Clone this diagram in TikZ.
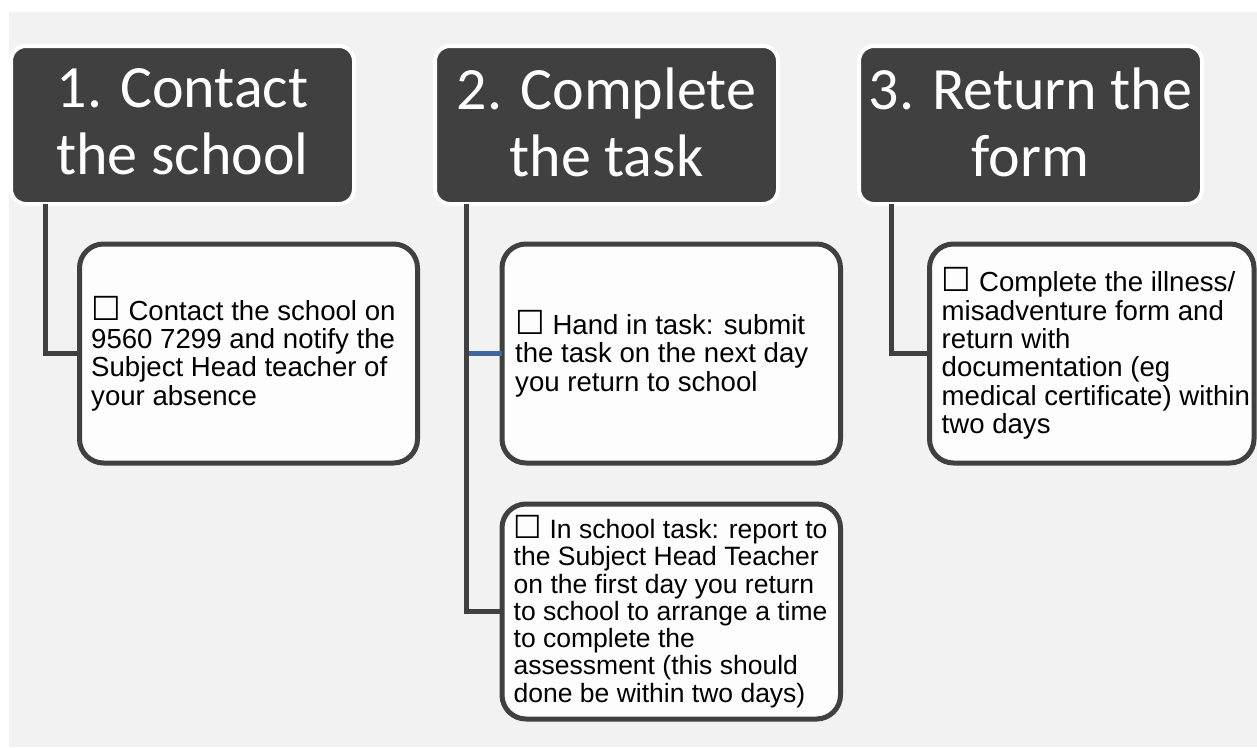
\documentclass[tikz,border=0pt]{standalone}
\usepackage{fontspec}
\usepackage{graphicx}
\newfontfamily\hdrfont{Carlito}
\newfontfamily\bodyfont{Liberation Sans}
\newfontfamily\symfont{DejaVu Sans}
\definecolor{bgray}{HTML}{F2F2F2}
\definecolor{darkgray}{HTML}{404040}
\definecolor{linkblue}{HTML}{41689E}
\definecolor{boxwhite}{HTML}{FDFDFD}
\newcommand{\ballotbox}{\scalebox{1.2}{\symfont\char"2610}}
\tikzset{
  hdrbox/.style={rounded corners=15pt, fill=darkgray, draw=white, line width=4pt,
    minimum width=343pt, minimum height=158pt, inner sep=0pt, outer sep=0pt,
    text=white, font=\hdrfont\fontsize{60}{67}\selectfont, align=center, text depth=6pt},
  childbox/.style={rounded corners=24pt, fill=boxwhite, draw=darkgray, line width=5pt,
    minimum height=219pt, inner sep=0pt, outer sep=0pt},
  childtext/.style={anchor=west, inner sep=0pt, align=left, text=black,
    font=\bodyfont\fontsize{27.6}{28.3}\selectfont},
  smalltext/.style={childtext, font=\bodyfont\fontsize{26.5}{27.3}\selectfont},
  conn/.style={draw=darkgray, line width=5pt, line cap=butt},
  bluelink/.style={draw=linkblue, line width=5pt, line cap=butt}
}
\begin{document}
\begin{tikzpicture}[x=1pt,y=-1pt]
\useasboundingbox (0,0) rectangle (1257,747);
\fill[white] (0,0) rectangle (1257,747);
\fill[bgray] (9,12) rectangle (1257,747);

% header boxes
\node[hdrbox] (h1) at (182.5,125) {1. Contact\\the school};
\node[hdrbox] (h2) at (606.5,125) {2. Complete\\the task};
\node[hdrbox] (h3) at (1030.5,125) {3. Return the\\form};

% child boxes
\node[childbox, minimum width=338pt] (c1) at (248.5,353.5) {};
\node[childbox, minimum width=338.5pt] (c2a) at (671.25,353.5) {};
\node[childbox, minimum width=338.5pt, minimum height=215pt] (c2b) at (671.25,611.5) {};
\node[childbox, minimum width=324.5pt] (c3) at (1091.75,353.5) {};

% texts
\node[childtext] (t1) at ([xshift=11.5pt]c1.west)
  {\ballotbox{} Contact the school on\\9560 7299 and notify the\\Subject Head teacher of\\your absence};
\node[childtext] (t2a) at ([xshift=13pt]c2a.west)
  {\ballotbox{} Hand in task: submit\\the task on the next day\\you return to school};
\node[smalltext] (t2b) at ([xshift=11.5pt]c2b.west)
  {\ballotbox{} In school task: report to\\the Subject Head Teacher\\on the first day you return\\to school to arrange a time\\to complete the\\assessment (this should\\done be within two days)};
\node[childtext] (t3) at ([xshift=12pt]c3.west)
  {\ballotbox{} Complete the illness/\\misadventure form and\\return with\\documentation (eg\\medical certificate) within\\two days};

% connectors
\coordinate (v1) at ([xshift=34pt]h1.south west);
\coordinate (v2) at ([xshift=31.5pt]h2.south west);
\coordinate (v3) at ([xshift=32.5pt]h3.south west);
\draw[bluelink] (v2 |- c2a.west) -- (c2a.west);
\draw[conn] (v1) |- (c1.west);
\draw[conn] (v2) |- (c2b.west);
\draw[conn] (v3) |- (c3.west);
\end{tikzpicture}
\end{document}
